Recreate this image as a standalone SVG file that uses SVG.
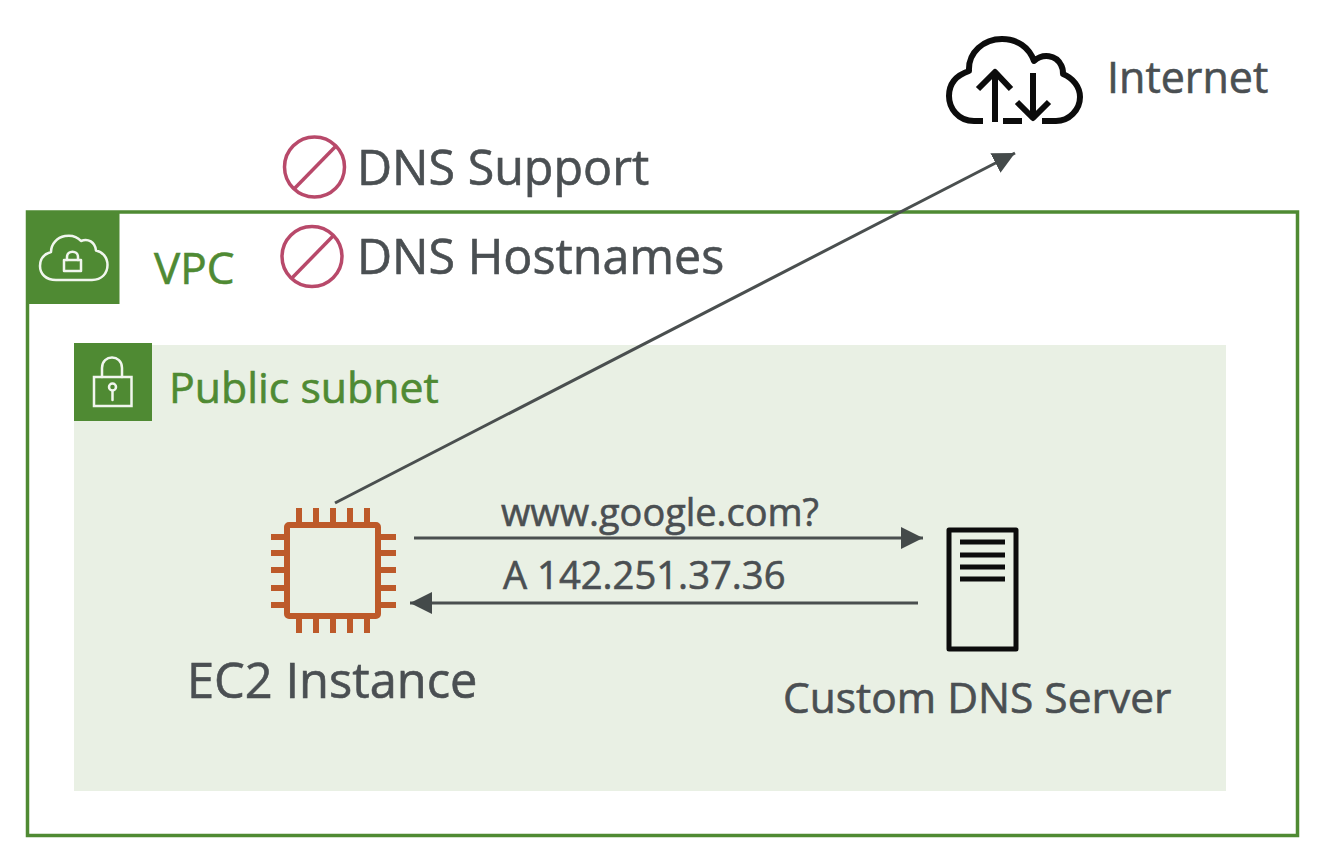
<svg xmlns="http://www.w3.org/2000/svg" width="1322" height="854" viewBox="0 0 1322 854">
<style>
text{font-family:"Open Sans","Noto Sans","Liberation Sans",sans-serif;fill:#4a4f52;stroke:#4a4f52;stroke-width:0.6}
text.g{fill:#4f8a33;stroke:#4f8a33}
.wl{fill:none;stroke:#f1f6ee;stroke-width:2.5;stroke-linecap:round;stroke-linejoin:round}
.no{fill:none;stroke:#b8496a;stroke-width:3.500}
.pin{stroke:#bd5a2a;stroke-width:6;fill:none}
.blk{fill:none;stroke:#0c0c0c;stroke-linejoin:round}
.conn{fill:none;stroke:#4a4f4f;stroke-width:3}
</style>
<defs>
<marker id="ah" markerUnits="userSpaceOnUse" markerWidth="24" markerHeight="24" refX="22" refY="12" orient="auto"><path d="M0 1L22 12L0 23Z" fill="#444a4a"/></marker>
</defs>
<rect width="1322" height="854" fill="#fff"/>
<g id="vpc">
<rect x="27.500" y="212" width="1270" height="623.500" fill="#fff" stroke="#4f8a33" stroke-width="3.500"/>
<rect x="27" y="211" width="92.500" height="93" fill="#4f8a33"/>
<path class="wl" d="M56 280H92C102 280 107.500 273 107.500 265C107.500 257 102 251.500 96 250.500C95 242 88 238 81 241C77 236.500 71 235 65 236C57 237.500 51 244 51 252C44 254 40 259 40 266C40 274 46 280 56 280Z"/>
<rect class="wl" x="64" y="260" width="17" height="11"/>
<path class="wl" d="M67 260V257C67 250 78 250 78 257V260"/>
<text class="g" x="154" y="284" font-size="44">VPC</text>
</g>
<g id="subnet">
<rect x="74" y="345" width="1152" height="446" fill="#e9f0e4"/>
<rect x="74" y="343" width="78" height="78" fill="#4f8a33"/>
<rect class="wl" style="stroke-linecap:butt;stroke-linejoin:miter" x="94" y="377" width="37.500" height="29"/>
<path class="wl" d="M102 377V368C102 354 122 354 122 368V377"/>
<circle class="wl" cx="112.500" cy="387" r="3.500"/>
<path class="wl" d="M112.500 391V400"/>
<text class="g" x="169" y="403" font-size="42.800">Public subnet</text>
</g>
<g id="dns-support">
<circle class="no" cx="314.500" cy="167" r="30"/>
<path class="no" d="M294 189L336 146"/>
<text x="357" y="185" font-size="48.400">DNS Support</text>
</g>
<g id="dns-hostnames">
<circle class="no" cx="312" cy="256.500" r="30"/>
<path class="no" d="M292 278L334 235"/>
<text x="357" y="274" font-size="48.400">DNS Hostnames</text>
</g>
<g id="internet">
<path class="blk" stroke-width="6" stroke-linecap="butt" d="M983 121H974C958 121 949 108 949 96C949 83 957 75 969 71C968 52 984 39 1002 39C1017 39 1029 47 1034 61C1043 53 1056 55 1061 65C1063 68 1063 72 1063 74C1073 78 1080 87 1080 97C1080 110 1069 121 1056 121H1042"/>
<path class="blk" stroke-width="6" d="M1003 121H1022"/>
<path class="blk" stroke-width="6" d="M995 122V73M978 89L995 72L1011 89"/>
<path class="blk" stroke-width="6" d="M1033 73V118M1017 102L1033 118L1049 102"/>
<text x="1107" y="93" font-size="43">Internet</text>
</g>
<g id="ec2">
<rect x="287" y="525" width="91" height="91" rx="2" fill="none" stroke="#bd5a2a" stroke-width="6"/>
<path class="pin" d="M299 508V525M316 508V525M333 508V525M350 508V525M367 508V525M299 616V633M316 616V633M333 616V633M350 616V633M367 616V633M271 537H287M271 553H287M271 570H287M271 588H287M271 605H287M378 537H396M378 553H396M378 570H396M378 588H396M378 605H396"/>
<text x="187" y="698" font-size="48.800">EC2 Instance</text>
</g>
<g id="dns-server">
<rect class="blk" x="949" y="530" width="67" height="119" stroke-width="5"/>
<path class="blk" stroke-width="5" d="M960 542H1005M960 555H1005M960 567H1005M960 579H1005"/>
<text x="783" y="713" font-size="42.500">Custom DNS Server</text>
</g>
<g id="connectors">
<path class="conn" marker-end="url(#ah)" d="M335 503L1015 153"/>
<path class="conn" marker-end="url(#ah)" d="M414 538H923"/>
<path class="conn" marker-end="url(#ah)" d="M918 603H410"/>
<text x="501" y="526" font-size="37.900">www.google.com?</text>
<text x="503" y="589" font-size="38.200">A 142.251.37.36</text>
</g>
</svg>
